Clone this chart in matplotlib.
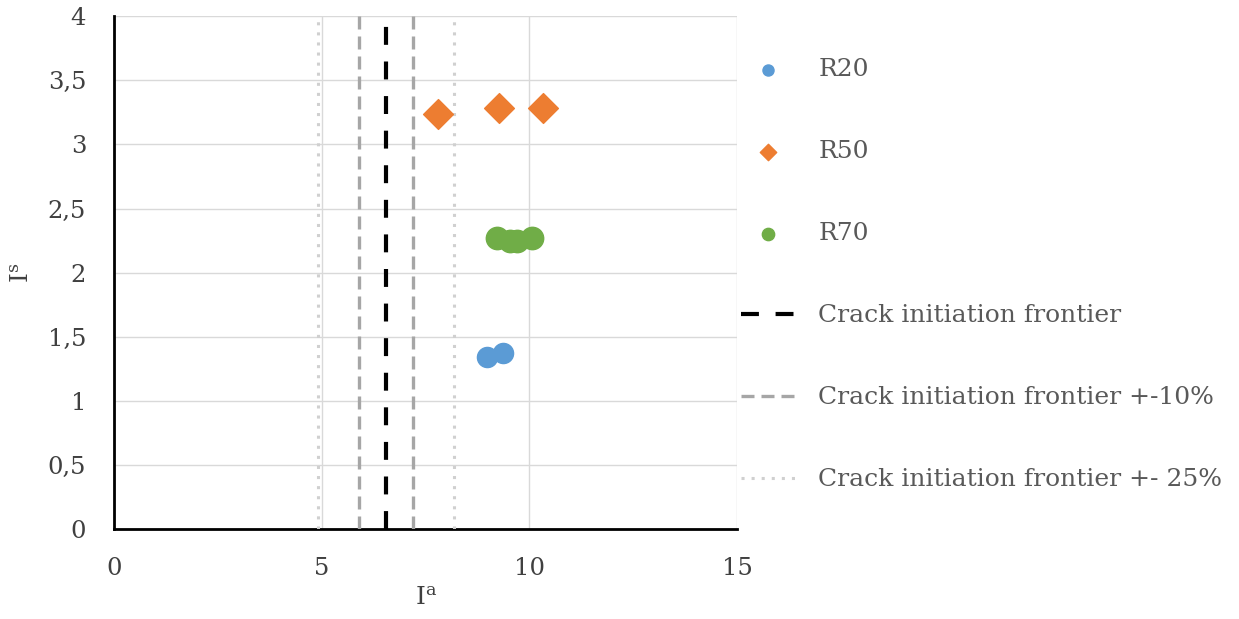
import matplotlib
matplotlib.use("Agg")
import matplotlib.pyplot as plt

plt.rcParams.update({
    "font.family": "DejaVu Serif",
    "mathtext.fontset": "custom",
    "mathtext.rm": "DejaVu Serif",
    "mathtext.it": "DejaVu Serif",
})

# --- data --------------------------------------------------------------------
r20_x = [8.98, 9.37]
r20_y = [1.34, 1.37]
r50_x = [7.80, 9.27, 10.33]
r50_y = [3.24, 3.28, 3.28]
r70_x = [9.22, 9.53, 9.70, 10.07]
r70_y = [2.27, 2.25, 2.25, 2.27]
FRONTIER = 6.55
x_ticks = [0, 5, 10, 15]
y_ticks = [0, 0.5, 1, 1.5, 2, 2.5, 3, 3.5, 4]
y_labels = ["0", "0,5", "1", "1,5", "2", "2,5", "3", "3,5", "4"]

BLUE, ORANGE, GREEN = "#5B9BD5", "#ED7D31", "#70AD47"
TXT = "#595959"

fig = plt.figure(figsize=(12.39, 6.19), dpi=100)
ax = fig.add_axes([0.092, 0.145, 0.503, 0.829])

ax.grid(True, color="#d9d9d9", lw=1.0, zorder=0)
ax.set_axisbelow(True)

h20 = ax.scatter(r20_x, r20_y, s=210, color=BLUE, marker="o", zorder=4, label="R20")
h50 = ax.scatter(r50_x, r50_y, s=230, color=ORANGE, marker="D", zorder=4, label="R50")
h70 = ax.scatter(r70_x, r70_y, s=260, color=GREEN, marker="o", zorder=4, label="R70")

ln1 = ax.axvline(FRONTIER, color="black", lw=3.0, ls=(0, (4.3, 4.0)), zorder=3,
                 label="Crack initiation frontier")
ln2 = ax.axvline(FRONTIER * 0.9, color="#a6a6a6", lw=2.4, ls=(0, (3.9, 2.1)), zorder=3,
                 label="Crack initiation frontier +-10%")
ax.axvline(FRONTIER * 1.1, color="#a6a6a6", lw=2.4, ls=(0, (3.9, 2.1)), zorder=3)
ln3 = ax.axvline(FRONTIER * 0.75, color="#d0d0d0", lw=2.2, ls=(0, (1, 2.3)), zorder=3,
                 label="Crack initiation frontier +- 25%")
ax.axvline(FRONTIER * 1.25, color="#d0d0d0", lw=2.2, ls=(0, (1, 2.3)), zorder=3)

ax.set_xlim(0, 15)
ax.set_ylim(0, 4)
ax.set_xticks(x_ticks)
ax.set_yticks(y_ticks)
ax.set_yticklabels(y_labels)
ax.tick_params(length=0, labelsize=17.5, labelcolor="#404040")
ax.tick_params(axis="y", pad=20)
ax.tick_params(axis="x", pad=20)
for s in ("top", "right"):
    ax.spines[s].set_visible(False)
for s in ("left", "bottom"):
    ax.spines[s].set_linewidth(2)
    ax.spines[s].set_color("black")

ax.set_xlabel(r"I$^{\mathrm{a}}$", fontsize=18, color="#404040", labelpad=5)
ax.set_ylabel(r"I$^{\mathrm{s}}$", fontsize=18, color="#404040", labelpad=10)

leg = ax.legend(handles=[h20, h50, h70, ln1, ln2, ln3],
                loc="upper left", bbox_to_anchor=(0.99, 0.937),
                frameon=False, fontsize=18, labelcolor=TXT,
                labelspacing=2.36, handlelength=2.2, handletextpad=0.9,
                markerscale=0.55, borderaxespad=0)

fig.savefig("out.png", dpi=100, facecolor="white")
